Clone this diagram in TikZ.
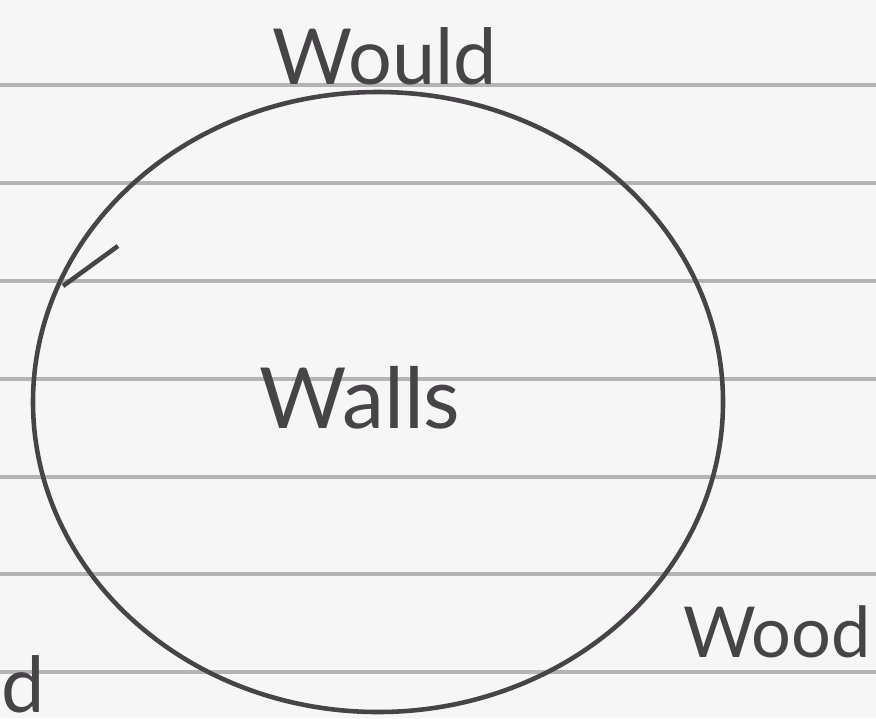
\documentclass[tikz,border=0pt]{standalone}
\usepackage{fontspec}
\setmainfont{Lato}
\usetikzlibrary{shapes.geometric}
\definecolor{pencil}{HTML}{474447}
\definecolor{rule}{HTML}{B4B4B4}
\definecolor{paper}{HTML}{F6F6F6}

\begin{document}
\begin{tikzpicture}[font=\fontsize{22}{26}\selectfont,text=pencil]
  \useasboundingbox (0,0) rectangle (8.76,7.18);
  \fill[paper] (0,0) rectangle (8.76,7.18);
  % ruled lines of the paper
  \foreach \y in {6.33,5.35,4.37,3.39,2.41,1.44,0.46} {
    \draw[rule,line width=1.1pt] (0,\y) -- (8.76,\y);
  }
  \node[draw=pencil,line width=1.3pt,ellipse,minimum width=6.9cm,minimum height=6.2cm,inner sep=0pt] (walls) at (3.78,3.16) {};
  \node[font=\fontsize{24}{28}\selectfont] (wallstxt) at (3.6,3.2) {Walls};
  \node (would) at (3.85,6.62) {Would};
  \node[font=\fontsize{20}{24}\selectfont] (wood) at (7.77,0.86) {Wood};
  \node[anchor=south east,inner sep=0pt] (cut) at (0.46,0.04) {d};
  \coordinate (tick) at (0.63,4.32);
  \coordinate (tickend) at (1.18,4.72);
  \draw[pencil,line width=1.3pt] (tick) -- (tickend);
\end{tikzpicture}
\end{document}
